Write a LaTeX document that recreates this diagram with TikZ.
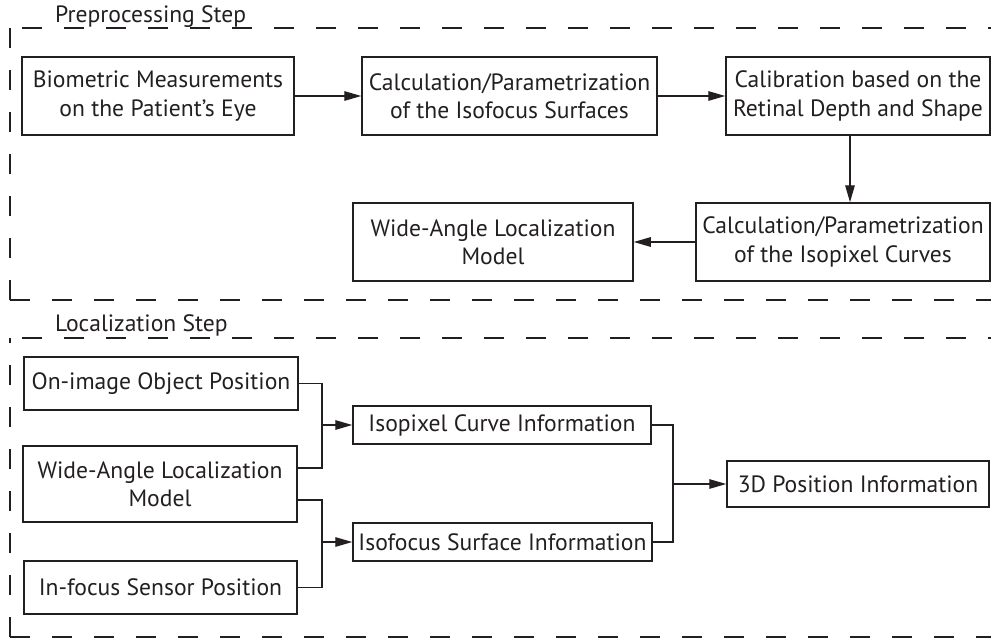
\documentclass[tikz,border=0pt]{standalone}
\usepackage{fontspec}
\setmainfont{PT Sans}
\usetikzlibrary{arrows.meta}
\definecolor{ink}{HTML}{231F20}
\tikzset{
  box/.style={draw=ink, line width=1.5pt, inner sep=0pt, align=center, text=ink},
  conn/.style={draw=ink, line width=1.4pt},
  arr/.style={conn, -{Triangle[length=17pt,width=9.5pt]}},
  frame/.style={draw=ink, line width=1.9pt, dash pattern=on 20pt off 22pt},
  title/.style={anchor=base west, inner sep=0pt, text=ink}
}
\begin{document}
\begin{tikzpicture}[x=1pt,y=-1pt,font=\fontsize{23.6}{28.4}\selectfont]
\useasboundingbox (0,0) rectangle (991,640);
% frames
\draw[frame] (10,300) -- (10,28);
\draw[frame] (22,28) -- (991,28);
\draw[frame] (10,300) -- (991,300);
\draw[frame] (10,637) -- (10,338);
\draw[frame] (22,338) -- (991,338);
\draw[frame] (10,637) -- (991,637);
\node[title] (t1) at (55,22) {Preprocessing Step};
\node[title] (t2) at (55,331) {Localization Step};
% preprocessing boxes
\node[box, minimum width=272pt, minimum height=78pt] (b1) at (158,96) {Biometric Measurements\\on the Patient’s Eye};
\node[box, minimum width=295pt, minimum height=78pt] (b2) at (509.5,96) {Calculation/Parametrization\\of the Isofocus Surfaces};
\node[box, minimum width=264pt, minimum height=78pt] (b3) at (858,96) {Calibration based on the\\Retinal Depth and Shape};
\node[box, minimum width=294pt, minimum height=78pt] (b4) at (843,242) {Calculation/Parametrization\\of the Isopixel Curves};
\node[box, minimum width=280pt, minimum height=78pt] (b5) at (493,242) {Wide-Angle Localization\\Model};
\draw[arr] (b1.east) -- (b2.west);
\draw[arr] (b2.east) -- (b3.west);
\draw[arr] ([xshift=-8pt]b3.south) -- ([xshift=-8pt]b3.south |- b4.north);
\draw[arr] (b4.west) -- (b5.east);
% localization boxes
\node[box, minimum width=274pt, minimum height=53pt] (b6) at (161,383.5) {On-image Object Position};
\node[box, minimum width=274pt, minimum height=76pt] (b7) at (160,484) {Wide-Angle Localization\\Model};
\node[box, minimum width=273pt, minimum height=53pt] (b8) at (160.5,587.5) {In-focus Sensor Position};
\node[box, minimum width=298pt, minimum height=38pt] (b9) at (502,425) {Isopixel Curve Information};
\node[box, minimum width=299pt, minimum height=38pt] (b10) at (502.5,542) {Isofocus Surface Information};
\node[box, minimum width=262pt, minimum height=46pt] (b11) at (858,484) {3D Position Information};
\coordinate (j1) at (322,425);
\coordinate (j2) at (322,542);
\coordinate (j3) at (673,484);
\draw[conn] (b6.east) -| (j1) |- ([yshift=16pt]b7.east);
\draw[conn] ([yshift=-16pt]b7.east) -| (j2) |- (b8.east);
\draw[conn] (b9.east) -| (j3) |- (b10.east);
\draw[arr] (j1) -- (b9.west);
\draw[arr] (j2) -- (b10.west);
\draw[arr] (j3) -- (b11.west);
\end{tikzpicture}
\end{document}
